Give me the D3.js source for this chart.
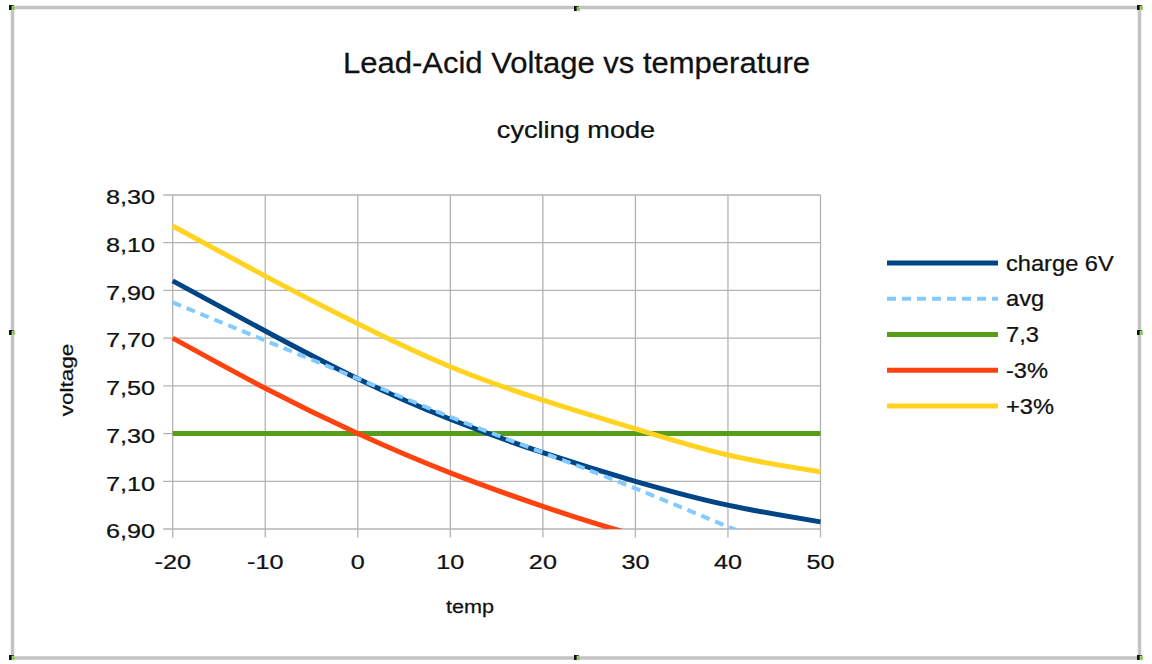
<!DOCTYPE html>
<html>
<head>
<meta charset="utf-8">
<script src="https://cdn.jsdelivr.net/npm/d3@7"></script>
<style>
  html, body { margin: 0; padding: 0; background: #fff; }
  svg { display: block; font-family: "Liberation Sans", Arial, sans-serif; }
</style>
</head>
<body>
<svg id="chart" width="1152" height="664"></svg>
<script>
// ---- data ----
const temps = [-20, -10, 0, 10, 20, 30, 40, 50];
const charge6V = [7.94, 7.73, 7.53, 7.36, 7.22, 7.10, 7.00, 6.93];
const avgV = [7.85, 7.69, 7.53, 7.37, 7.22, 7.07, 6.91, 6.76];
const ref73 = [7.30, 7.30, 7.30, 7.30, 7.30, 7.30, 7.30, 7.30];
const minus3 = [7.70, 7.49, 7.30, 7.135, 6.995, 6.875, 6.79, 6.72];
const plus3 = [8.17, 7.96, 7.76, 7.58, 7.44, 7.32, 7.21, 7.14];
const seriesNames = ["charge 6V", "avg", "7,3", "-3%", "+3%"];
const xTickValues = [-20, -10, 0, 10, 20, 30, 40, 50];
const yTickValues = [6.9, 7.1, 7.3, 7.5, 7.7, 7.9, 8.1, 8.3];
const titleText = "Lead-Acid Voltage vs temperature";
const subtitleText = "cycling mode";
const xTitle = "temp";
const yTitle = "voltage";

// ---- styles ----
const colors = ["#004586", "#83caff", "#579d1c", "#ff420e", "#ffd320"];
const dashes = [null, "9,6", null, null, null];
const widths = [5, 4, 5, 5, 5];
const textColor = "#111111";
const gridColor = "#b3b3b3";

const svg = d3.select("#chart");
svg.append("rect").attr("width", 1152).attr("height", 664).attr("fill", "#fff");

// frame
svg.append("rect").attr("x", 12.5).attr("y", 7.5).attr("width", 1127).attr("height", 650.5)
  .attr("fill", "none").attr("stroke", "#c3c3c3").attr("stroke-width", 3.5);
const handles = [[12, 8], [577, 9], [1140, 8], [12, 333], [1140, 333], [12, 658], [577, 658], [1140, 658]];
handles.forEach(([hx, hy]) => {
  svg.append("rect").attr("x", hx - 3).attr("y", hy - 3).attr("width", 5).attr("height", 5).attr("fill", "#111");
  svg.append("rect").attr("x", hx).attr("y", hy - 2).attr("width", 3).attr("height", 4)
    .attr("fill", "#7fc04a").attr("stroke", "#cfe8b8").attr("stroke-width", 0.6);
});

const x = d3.scaleLinear().domain([-20, 50]).range([172.7, 820.5]);
const y = d3.scaleLinear().domain([6.9, 8.3]).range([529, 195]);

function stretchedText(g, txt, tx, ty, size, sx, anchor, rotate) {
  return g.append("text")
    .attr("transform", `translate(${tx},${ty})` + (rotate ? ` rotate(${rotate})` : "") + ` scale(${sx},1)`)
    .attr("font-size", size).attr("fill", textColor).attr("text-anchor", anchor)
    .attr("stroke", textColor).attr("stroke-width", 0.25)
    .text(txt);
}

// titles
stretchedText(svg, titleText, 576.5, 73, 29, 1.07, "middle");
stretchedText(svg, subtitleText, 576, 138.3, 23, 1.18, "middle");

// grid
const grid = svg.append("g");
grid.selectAll("line.h").data(yTickValues).join("line")
  .attr("x1", x(-20) - 9.5).attr("x2", x(50)).attr("y1", d => y(d)).attr("y2", d => y(d))
  .attr("stroke", gridColor).attr("stroke-width", 1.3);
grid.selectAll("line.v").data(xTickValues).join("line")
  .attr("x1", d => x(d)).attr("x2", d => x(d)).attr("y1", y(8.3)).attr("y2", y(6.9) + 8.5)
  .attr("stroke", gridColor).attr("stroke-width", 1.3);

// tick labels
const fmtY = v => d3.format(".2f")(v).replace(".", ",");
yTickValues.forEach(v => stretchedText(svg, fmtY(v), 155, y(v) + 9.3, 21, 1.2, "end"));
xTickValues.forEach(v => stretchedText(svg, String(v), x(v), 569, 21, 1.2, "middle"));

// axis titles
stretchedText(svg, xTitle, 470, 613, 18.5, 1.17, "middle");
stretchedText(svg, yTitle, 72.7, 380, 18.5, 1.22, "middle", -90);

// clip
svg.append("clipPath").attr("id", "plotclip").append("rect")
  .attr("x", x(-20) - 3).attr("y", y(8.3) - 10).attr("width", x(50) - x(-20) + 6).attr("height", y(6.9) - y(8.3) + 10);

const allSeries = [charge6V, avgV, ref73, minus3, plus3];
const line = d3.line().x((d, i) => x(temps[i])).y(d => y(d)).curve(d3.curveNatural);
const drawOrder = [2, 0, 1, 3, 4];
const plot = svg.append("g").attr("clip-path", "url(#plotclip)");
drawOrder.forEach(k => {
  plot.append("path").datum(allSeries[k]).attr("d", line)
    .attr("fill", "none").attr("stroke", colors[k]).attr("stroke-width", widths[k])
    .attr("stroke-dasharray", dashes[k]).attr("stroke-linejoin", "round");
});

// legend
const legend = svg.append("g");
seriesNames.forEach((name, i) => {
  const ly = 263 + i * 35.75;
  legend.append("line").attr("x1", 887).attr("x2", 998).attr("y1", ly).attr("y2", ly)
    .attr("stroke", colors[i]).attr("stroke-width", widths[i]).attr("stroke-dasharray", dashes[i]);
  stretchedText(legend, name, 1006, ly + 7.5, 21.5, 1.1, "start");
});
</script>
</body>
</html>
